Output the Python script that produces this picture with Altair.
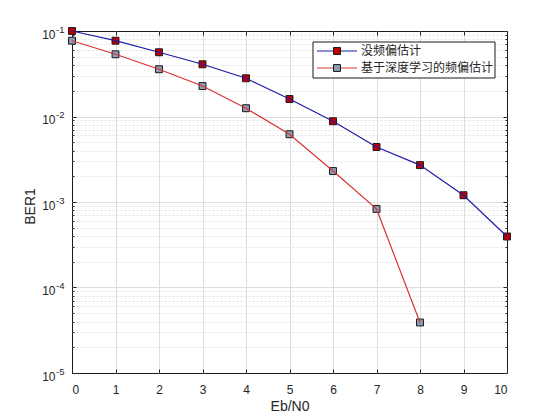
import altair as alt
import pandas as pd

# ---- data ----
ebn0_a = [0, 1, 2, 3, 4, 5, 6, 7, 8, 9, 10]
ber_a = [0.1, 0.077, 0.0564, 0.0408, 0.028, 0.016, 0.0088, 0.0044, 0.0027, 0.0012, 0.000395]
ebn0_b = [0, 1, 2, 3, 4, 5, 6, 7, 8]
ber_b = [0.077, 0.0534, 0.0357, 0.0227, 0.0125, 0.0062, 0.0023, 0.00083, 0.000039]
series_names = ["没频偏估计", "基于深度学习的频偏估计"]
x_ticks = [0, 1, 2, 3, 4, 5, 6, 7, 8, 9, 10]
y_major = [1e-5, 1e-4, 1e-3, 1e-2, 1e-1]
y_minor = [m * 10.0 ** e for e in range(-5, -1) for m in range(2, 10)]

line_colors = ["#1c1ca6", "#d93434"]
fill_colors = ["#c00000", "#8d9bb8"]

df = pd.concat([
    pd.DataFrame({"x": ebn0_a, "ber": ber_a, "series": series_names[0]}),
    pd.DataFrame({"x": ebn0_b, "ber": ber_b, "series": series_names[1]}),
], ignore_index=True)

W, H = 435, 342
FONT = "Liberation Sans"
TXT = "#262626"
GRID = "#dedede"

xscale = alt.Scale(domain=[0, 10], nice=False, zero=False)
yscale = alt.Scale(type="log", domain=[1e-5, 1e-1], nice=False)

base = alt.Chart(df)

# main axes: x labels + titles, y mantissa "10"
lines = base.mark_line(strokeWidth=1.2).encode(
    x=alt.X("x:Q", scale=xscale, axis=alt.Axis(
        values=x_ticks, title="Eb/N0", grid=False, ticks=False, domain=False,
        labelFont=FONT, labelFontSize=12, labelColor=TXT, labelPadding=11,
        titleFont=FONT, titleFontSize=14, titleFontWeight="normal", titleColor=TXT,
        titleX=W / 2, titleY=33, titleBaseline="middle", titleAlign="center",
        orient="bottom")),
    y=alt.Y("ber:Q", scale=yscale, axis=alt.Axis(
        values=y_major, labelExpr="'10'", title="BER1", grid=False, ticks=False, domain=False,
        labelFont=FONT, labelFontSize=12, labelColor=TXT, labelPadding=17,
        labelBaseline="middle", labelOffset=3,
        titleFont=FONT, titleFontSize=14, titleFontWeight="normal", titleColor=TXT,
        titleX=-42, titleY=H / 2 + 4, titleBaseline="middle", titleAlign="center",
        orient="left")),
    stroke=alt.Stroke("series:N", scale=alt.Scale(domain=series_names, range=line_colors), legend=None),
)

# major grid (interior only)
points = base.mark_square(size=48, stroke="#1a1a1a", strokeWidth=1, opacity=1).encode(
    x=alt.X("x:Q", scale=xscale, axis=alt.Axis(
        values=x_ticks[1:-1], grid=True, gridColor=GRID, gridWidth=1, labels=False,
        ticks=False, domain=False, title=None, orient="bottom")),
    y=alt.Y("ber:Q", scale=yscale, axis=alt.Axis(
        values=y_major[1:-1], grid=True, gridColor=GRID, gridWidth=1, labels=False,
        ticks=False, domain=False, title=None, orient="left")),
    fill=alt.Fill("series:N", scale=alt.Scale(domain=series_names, range=fill_colors), legend=None),
)

# minor grid + bottom inward ticks
ghost1 = base.mark_point(opacity=0).encode(
    x=alt.X("x:Q", scale=xscale, axis=alt.Axis(
        values=x_ticks, grid=False, labels=False, ticks=True, tickSize=4, tickColor=TXT,
        domain=False, title=None, orient="bottom", offset=-4)),
    y=alt.Y("ber:Q", scale=yscale, axis=alt.Axis(
        values=y_minor, grid=True, gridColor="#dcdcdc", gridDash=[2, 2], gridWidth=0.8,
        labels=False, ticks=False, domain=False, title=None, orient="left")),
)

# left inward ticks (major) + top inward ticks
ghost2 = base.mark_point(opacity=0).encode(
    x=alt.X("x:Q", scale=xscale, axis=alt.Axis(
        values=x_ticks, grid=False, labels=False, ticks=True, tickSize=4, tickColor=TXT,
        domain=False, title=None, orient="top", offset=-4)),
    y=alt.Y("ber:Q", scale=yscale, axis=alt.Axis(
        values=y_major, grid=False, labels=False, ticks=True, tickSize=4, tickColor=TXT,
        domain=False, title=None, orient="left", offset=-4)),
)

# left inward minor ticks
ghost3 = base.mark_point(opacity=0).encode(
    y=alt.Y("ber:Q", scale=yscale, axis=alt.Axis(
        values=y_minor, grid=False, labels=False, ticks=True, tickSize=2, tickColor=TXT,
        domain=False, title=None, orient="left", offset=-2)),
)
# right inward major / minor ticks
ghost4 = base.mark_point(opacity=0).encode(
    y=alt.Y("ber:Q", scale=yscale, axis=alt.Axis(
        values=y_major, grid=False, labels=False, ticks=True, tickSize=4, tickColor=TXT,
        domain=False, title=None, orient="right", offset=-4)),
)
ghost5 = base.mark_point(opacity=0).encode(
    y=alt.Y("ber:Q", scale=yscale, axis=alt.Axis(
        values=y_minor, grid=False, labels=False, ticks=True, tickSize=2, tickColor=TXT,
        domain=False, title=None, orient="right", offset=-2)),
)
# y exponent labels (superscript)
ghost6 = base.mark_point(opacity=0).encode(
    y=alt.Y("ber:Q", scale=yscale, axis=alt.Axis(
        values=y_major, labelExpr="'-' + round(-log(datum.value)/LN10)",
        grid=False, ticks=False, domain=False, title=None, orient="left",
        labelFont=FONT, labelFontSize=9.5, labelColor=TXT, labelAlign="left",
        labelBaseline="middle", labelPadding=16.5, labelOffset=-2)),
)

# manual legend
one = pd.DataFrame({"label": [series_names[0]]})
two = pd.DataFrame({"label": [series_names[1]]})
box = alt.Chart(one).mark_rect(fill="white", stroke="#1a1a1a", strokeWidth=1).encode(
    x=alt.value(241), x2=alt.value(423), y=alt.value(11), y2=alt.value(47))
legend_layers = [box]
for d, yy, lc, fc in [(one, 20, line_colors[0], fill_colors[0]), (two, 37, line_colors[1], fill_colors[1])]:
    legend_layers.append(alt.Chart(d).mark_rule(color=lc, strokeWidth=1.2).encode(
        x=alt.value(245), x2=alt.value(285), y=alt.value(yy)))
    legend_layers.append(alt.Chart(d).mark_square(size=48, fill=fc, stroke="#1a1a1a", strokeWidth=1, opacity=1).encode(
        x=alt.value(265), y=alt.value(yy)))
    legend_layers.append(alt.Chart(d).mark_text(align="left", baseline="middle", font="Noto Sans CJK SC",
                                                fontSize=12, color=TXT).encode(
        x=alt.value(289), y=alt.value(yy), text="label:N"))

chart = alt.layer(ghost1, points, lines, ghost2, ghost3, ghost4, ghost5, ghost6, *legend_layers).resolve_axis(
    x="independent", y="independent"
).properties(
    width=W, height=H,
    autosize=alt.AutoSizeParams(type="none"),
    padding={"left": 64, "top": 23, "right": 45, "bottom": 39},
    background="white",
).configure_view(stroke="#1a1a1a", strokeWidth=1)

chart.save("out.html", embed_options={"renderer": "svg", "actions": False})
